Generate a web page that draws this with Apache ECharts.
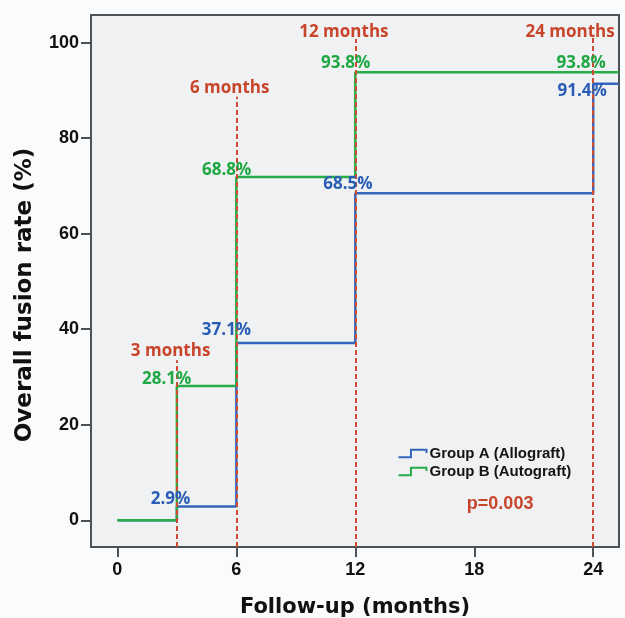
<!DOCTYPE html>
<html>
<head>
<meta charset="utf-8">
<script src="https://cdn.jsdelivr.net/npm/echarts@6/dist/echarts.min.js"></script>
<style>
html,body{margin:0;padding:0;background:#fafbfd;}
#chart{width:625px;height:618px;}
</style>
</head>
<body>
<div id="chart"></div>
<script>
// ---- data ----
const stepMonths = [0, 3, 6, 12, 24];
const groupA = [0, 2.9, 37.1, 68.5, 91.4];
const groupB = [0, 28.1, 71.9, 93.8, 93.8];
const seriesNames = ['Group A (Allograft)', 'Group B (Autograft)'];
const xTicks = [0, 6, 12, 18, 24];
const yTicks = [0, 20, 40, 60, 80, 100];
const xRange = [-1.33, 25.3];
const yRange = [-5.6, 105.8];

const markerMonths = [3, 6, 12, 24];
const markerTops = [33.5, 88.7, 100.8, 101.5];
const markerTexts = ['3 months', '6 months', '12 months', '24 months'];
const markerTextPos = [[2.71, 35.3], [5.69, 90.3], [11.45, 102.0], [22.86, 102.2]];

const pctTextsA = ['2.9%', '37.1%', '68.5%', '91.4%'];
const pctPosA = [[2.71, 4.4], [5.53, 39.6], [11.65, 70.3], [23.47, 89.7]];
const pctTextsB = ['28.1%', '68.8%', '93.8%', '93.8%'];
const pctPosB = [[2.51, 29.5], [5.54, 73.2], [11.54, 95.7], [23.42, 95.7]];

const pText = 'p=0.003';
const pPos = [19.33, 3.35];

// ---- styles ----
const BLUE = '#3566bd', GREEN = '#27ad48', RED = '#cf4c32', AXIS = '#4d5257';
const BLUE_T = '#2a5db5', GREEN_T = '#1fa743', RED_T = '#c8452b';

function stepData(vals) {
  const d = stepMonths.map((m, i) => [m, vals[i]]);
  d.push([xRange[1], vals[vals.length - 1]]);
  return d;
}

function textItems(texts, pos, color, size, family) {
  return texts.map((t, i) => ({
    value: pos[i], name: t,
    label: { color: color, fontSize: size, fontFamily: family }
  }));
}

const annotations = []
  .concat(textItems(markerTexts, markerTextPos, RED_T, 17, 'Open Sans'))
  .concat(textItems(pctTextsA, pctPosA, BLUE_T, 17, 'Open Sans'))
  .concat(textItems(pctTextsB, pctPosB, GREEN_T, 17, 'Open Sans'))
  .concat(textItems([pText], [pPos], RED_T, 18, 'Liberation Sans'));

const chart = echarts.init(document.getElementById('chart'), null, { renderer: 'canvas' });
chart.setOption({
  backgroundColor: '#fafbfd',
  animation: false,
  grid: {
    left: 91, right: 6, top: 15, bottom: 71,
    outerBoundsMode: 'none', containLabel: false,
    show: true, backgroundColor: '#f0f1f2', borderColor: AXIS, borderWidth: 2
  },
  legend: {
    orient: 'vertical', left: 396, top: 446,
    itemWidth: 28, itemHeight: 8, itemGap: 3, padding: 0,
    icon: 'path://M0,8 L12,8 L12,1 L27,1 L27,4',
    textStyle: { fontFamily: 'Liberation Sans', fontWeight: 'bold', fontSize: 15, color: '#141414', padding: [0, 0, 0, -2] },
    data: [
      { name: seriesNames[0], itemStyle: { color: 'none', borderColor: BLUE, borderWidth: 2 } },
      { name: seriesNames[1], itemStyle: { color: 'none', borderColor: GREEN, borderWidth: 2 } }
    ]
  },
  xAxis: {
    type: 'value', min: xRange[0], max: xRange[1],
    name: 'Follow-up (months)', nameLocation: 'middle', nameGap: 50,
    nameTextStyle: { fontFamily: 'DejaVu Sans', fontWeight: 'bold', fontSize: 21, color: '#111' },
    axisLine: { show: true, onZero: false, lineStyle: { color: AXIS, width: 2 } },
    axisTick: { show: true, length: 10, lineStyle: { color: AXIS, width: 2 }, customValues: xTicks },
    axisLabel: { customValues: xTicks, margin: 14, fontFamily: 'Liberation Sans', fontWeight: 'bold', fontSize: 18, color: '#111' },
    splitLine: { show: false }
  },
  yAxis: {
    type: 'value', min: yRange[0], max: yRange[1],
    name: 'Overall fusion rate (%)', nameLocation: 'middle', nameGap: 54,
    nameTextStyle: { fontFamily: 'DejaVu Sans', fontWeight: 'bold', fontSize: 23, color: '#111', padding: [0, 28, 0, 0] },
    axisLine: { show: true, onZero: false, lineStyle: { color: AXIS, width: 2 } },
    axisTick: { show: true, length: 10, lineStyle: { color: AXIS, width: 2 }, customValues: yTicks },
    axisLabel: { customValues: yTicks, margin: 12, fontFamily: 'Liberation Sans', fontWeight: 'bold', fontSize: 18, color: '#111' },
    splitLine: { show: false }
  },
  series: [
    {
      name: seriesNames[0], type: 'line', step: 'end', data: stepData(groupA),
      showSymbol: false, symbol: 'none', color: BLUE,
      lineStyle: { color: BLUE, width: 2.5 }, z: 2
    },
    {
      name: seriesNames[1], type: 'line', step: 'end', data: stepData(groupB),
      showSymbol: false, symbol: 'none', color: GREEN,
      lineStyle: { color: GREEN, width: 2.5 }, z: 3
    },
    {
      name: 'markers', type: 'line', data: [], z: 4, silent: true,
      markLine: {
        symbol: 'none', silent: true, animation: false,
        label: { show: false },
        lineStyle: { color: RED, width: 2, type: [5, 3] },
        data: markerMonths.map((m, i) => [{ coord: [m, yRange[0]] }, { coord: [m, markerTops[i]] }])
      }
    },
    {
      name: 'annotations', type: 'scatter', data: annotations, z: 5, silent: true,
      symbolSize: 1, itemStyle: { color: 'rgba(0,0,0,0)' },
      label: {
        show: true, position: [0, 0], align: 'center', verticalAlign: 'middle',
        fontWeight: 'bold', textBorderWidth: 0, opacity: 1,
        formatter: p => p.name
      }
    }
  ]
});
</script>
</body>
</html>
